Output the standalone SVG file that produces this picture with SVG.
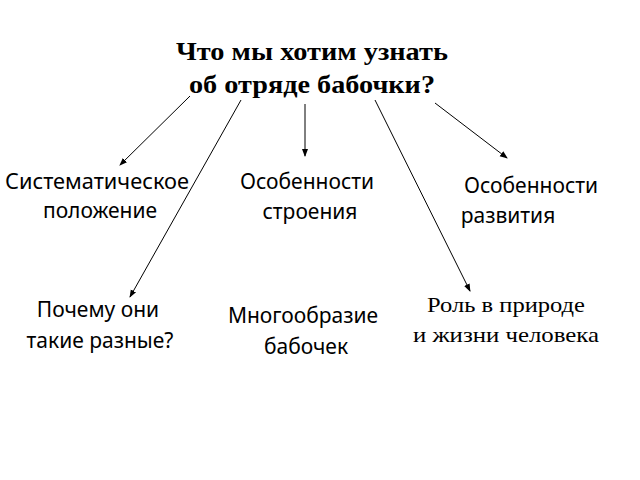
<svg xmlns="http://www.w3.org/2000/svg" width="640" height="480" viewBox="0 0 640 480">
<style>
.t{font-family:"Liberation Serif",serif;font-size:25px;font-weight:bold;text-anchor:middle;fill:#000}
.n{font-family:"Noto Sans","Liberation Sans",sans-serif;font-size:21px;text-anchor:middle;fill:#000}
.s{font-family:"Liberation Serif",serif;font-size:21px;text-anchor:middle;fill:#000}
.c{stroke:#000;stroke-width:1;fill:none;marker-end:url(#a)}
</style>
<defs><marker id="a" markerWidth="8" markerHeight="8" refX="7" refY="4" orient="auto" markerUnits="userSpaceOnUse"><path d="M0,1 L8,4 L0,7 Z" fill="#000"/></marker></defs>
<rect width="640" height="480" fill="#fff"/>
<g id="title"><text class="t" x="312" y="60" textLength="272" lengthAdjust="spacingAndGlyphs">Что мы хотим узнать</text><text class="t" x="312" y="93" textLength="246" lengthAdjust="spacingAndGlyphs">об отряде бабочки?</text></g>
<g id="connectors">
<line class="c" x1="190" y1="96" x2="120" y2="165"/>
<line class="c" x1="241" y1="100" x2="130" y2="297"/>
<line class="c" x1="305" y1="104" x2="305" y2="156"/>
<line class="c" x1="375" y1="100" x2="470" y2="291"/>
<line class="c" x1="435" y1="103" x2="507" y2="158"/>
</g>
<g id="n1"><text class="n" x="97" y="189" textLength="184" lengthAdjust="spacingAndGlyphs">Систематическое</text><text class="n" x="100" y="218">положение</text></g>
<g id="n2"><text class="n" x="307" y="189">Особенности</text><text class="n" x="310" y="219">строения</text></g>
<g id="n3"><text class="n" x="531" y="193">Особенности</text><text class="n" x="508" y="223">развития</text></g>
<g id="n4"><text class="n" x="98" y="317">Почему они</text><text class="n" x="100" y="348">такие разные?</text></g>
<g id="n5"><text class="n" x="303" y="323">Многообразие</text><text class="n" x="306" y="354">бабочек</text></g>
<g id="n6"><text class="s" x="506" y="312" textLength="158" lengthAdjust="spacingAndGlyphs">Роль в природе</text><text class="s" x="506" y="342" textLength="186" lengthAdjust="spacingAndGlyphs">и жизни человека</text></g>
</svg>
